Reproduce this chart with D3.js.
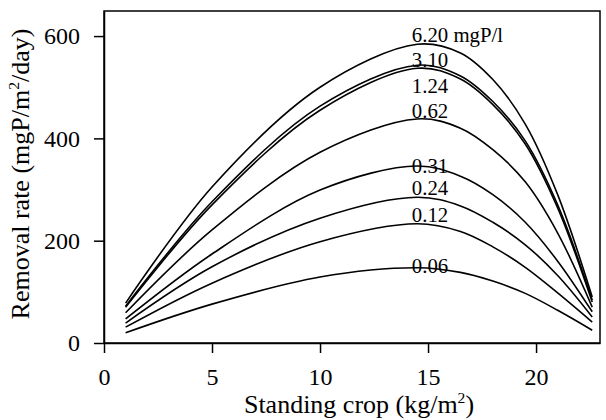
<!DOCTYPE html>
<html>
<head>
<meta charset="utf-8">
<script src="https://cdn.jsdelivr.net/npm/d3@7"></script>
<style>
  html, body { margin: 0; padding: 0; background: #fff; }
  svg { display: block; }
  text { font-family: "Liberation Serif", "Times New Roman", serif; fill: #000; }
</style>
</head>
<body>
<div class="chartWrapper"></div>
<script>
"use strict";

var standingCrop = [1, 5, 10, 14.5, 16.5, 18, 19.5, 21, 22.6];

// removal rate (mgP/m2/day), one array per water concentration
var rate620 = [78, 305, 500, 584, 567, 515, 428, 290, 90];
var rate310 = [72, 276, 463, 543, 522, 472, 395, 270, 84];
var rate124 = [70, 270, 455, 537, 516, 466, 389, 264, 80];
var rate062 = [59, 221, 373, 438, 420, 378, 315, 215, 70];
var rate031 = [47, 174, 299, 346, 326, 290, 236, 160, 61];
var rate024 = [39, 149, 244, 285, 268, 236, 192, 132, 51];
var rate012 = [31, 117, 198, 233, 218, 188, 148, 98, 41];
var rate006 = [20, 76, 129, 147, 138, 121, 97, 64, 25];

var seriesLabels = ["6.20 mgP/l", "3.10", "1.24", "0.62", "0.31", "0.24", "0.12", "0.06"];
var seriesValues = [rate620, rate310, rate124, rate062, rate031, rate024, rate012, rate006];

var xTicks = [0, 5, 10, 15, 20];
var yTicks = [0, 200, 400, 600];

var width = 606;
var height = 420;
var margin = { "top": 11, "right": 6, "bottom": 77, "left": 104 };
var plotW = width - margin.left - margin.right;
var plotH = height - margin.top - margin.bottom;
// label baseline offset from the curve peak, px
var labelNudge = [-2, 2, 25, -1, 7, -2, -2, 5];

var x = d3.scaleLinear().domain([0, 22.96]).range([0, plotW]);
var y = d3.scaleLinear().domain([0, 649]).range([plotH, 0]);

var svg = d3.select(".chartWrapper").append("svg")
  .attr("width", width).attr("height", height);
var canvas = svg.append("g")
  .attr("transform", "translate(" + margin.left + "," + margin.top + ")");

// frame
canvas.append("rect")
  .attr("width", plotW).attr("height", plotH)
  .attr("fill", "none").attr("stroke", "#000").attr("stroke-width", 1.5);

var xAxis = d3.axisBottom(x).tickValues(xTicks).tickSize(10).tickSizeOuter(0).tickPadding(15);
var yAxis = d3.axisLeft(y).tickValues(yTicks).tickSize(10).tickSizeOuter(0).tickPadding(14);

var gX = canvas.append("g").attr("transform", "translate(0," + plotH + ")").call(xAxis);
var gY = canvas.append("g").call(yAxis);

[gX, gY].forEach(function (g) {
  g.select(".domain").attr("stroke-width", 1.5);
  g.selectAll(".tick line").attr("stroke-width", 1.5);
  g.selectAll(".tick text")
    .attr("font-family", "Liberation Serif, serif")
    .attr("font-size", 24)
    .attr("fill", "#000");
});

var line = d3.line()
  .x(function (d) { return x(d[0]); })
  .y(function (d) { return y(d[1]); })
  .curve(d3.curveCatmullRom.alpha(0.5));

canvas.selectAll(".rateCurve").data(seriesValues).enter().append("path")
  .attr("class", "rateCurve")
  .attr("fill", "none").attr("stroke", "#000").attr("stroke-width", 1.6)
  .attr("d", function (vals) {
    return line(vals.map(function (v, i) { return [standingCrop[i], v]; }));
  });

canvas.selectAll(".curveLabel").data(seriesLabels).enter().append("text")
  .attr("class", "curveLabel")
  .attr("font-size", 20)
  .attr("transform", function (d, i) {
    var peak = d3.max(seriesValues[i]);
    return "translate(" + x(14.25) + "," + (y(peak) + labelNudge[i]) + ") scale(1.04,1)";
  })
  .text(function (d) { return d; });

// axis titles
var xTitle = svg.append("text")
  .attr("font-size", 25)
  .attr("text-anchor", "middle")
  .attr("transform", "translate(359,413) scale(1.04,1)");
xTitle.append("tspan").text("Standing crop (kg/m");
xTitle.append("tspan").attr("font-size", 15).attr("dy", -10).text("2");
xTitle.append("tspan").attr("dy", 10).text(")");

var yTitle = svg.append("text")
  .attr("font-size", 25)
  .attr("text-anchor", "middle")
  .attr("transform", "translate(29,174) rotate(-90) scale(1.04,1)");
yTitle.append("tspan").text("Removal rate (mgP/m");
yTitle.append("tspan").attr("font-size", 15).attr("dy", -10).text("2");
yTitle.append("tspan").attr("dy", 10).text("/day)");
</script>
</body>
</html>
